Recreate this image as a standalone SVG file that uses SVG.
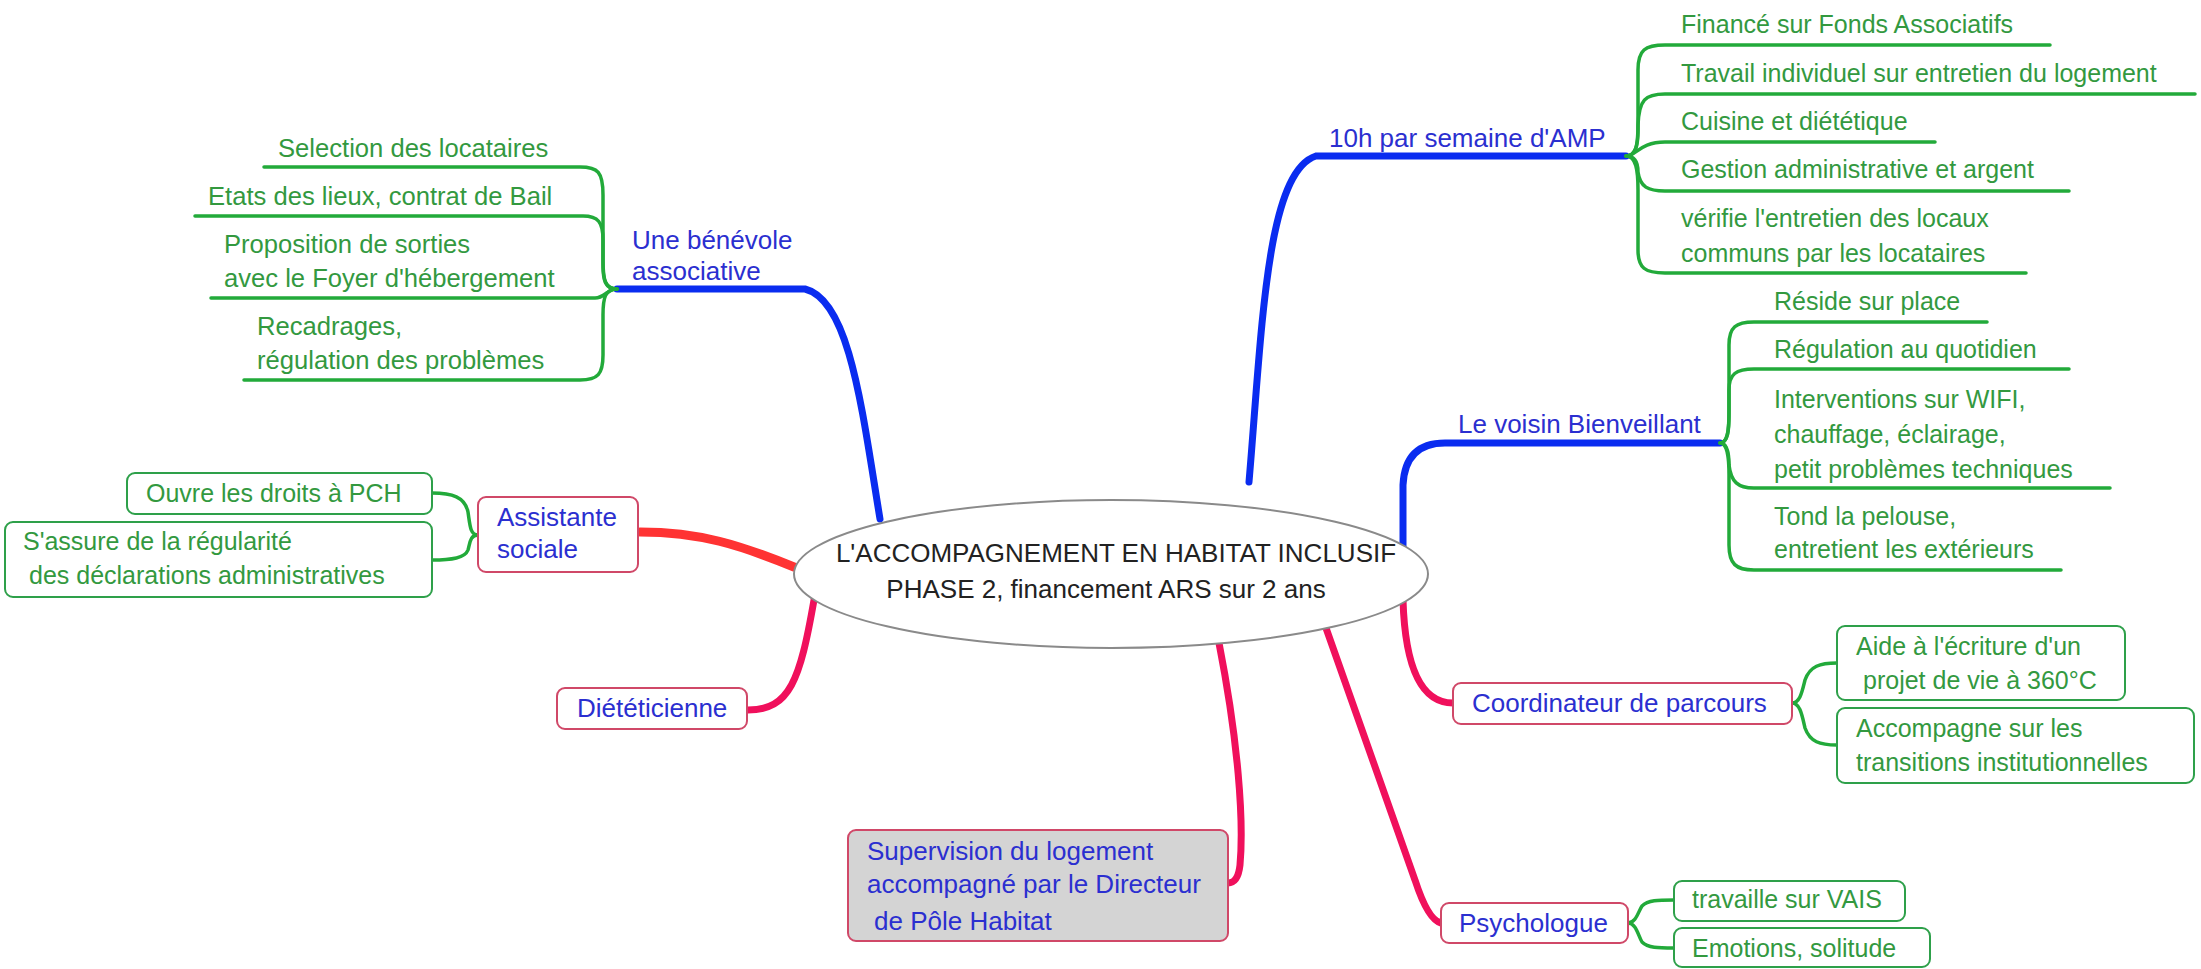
<svg xmlns="http://www.w3.org/2000/svg" width="2201" height="969" viewBox="0 0 2201 969">
<style>
text{font-family:"Liberation Sans",Arial,sans-serif;}
.g{fill:#33993f;font-size:25px;}
.gL{fill:#33993f;font-size:25.6px;}
.b{fill:#2b2fd0;font-size:26px;}
.c{fill:#222;font-size:26px;text-anchor:middle;}
.gl{fill:none;stroke:#22aa3a;stroke-width:3.5;stroke-linecap:round;}
.bl{fill:none;stroke:#0a2cf0;stroke-width:7;stroke-linecap:round;}
.pl{fill:none;stroke:#f0105c;stroke-width:7;stroke-linecap:round;}
.rl{fill:none;stroke:#ff3333;stroke-width:9;stroke-linecap:round;}
.nb{fill:#fff;stroke:#d04868;stroke-width:2;}
.gb{fill:#fff;stroke:#2ea04a;stroke-width:2;}
</style>
<rect width="2201" height="969" fill="#fff"/>
<g id="connectors">
<path class="bl" d="M 880 519 C 862 410, 850 300, 805 289 L 617 289"/>
<path class="bl" d="M 1249 482 C 1262 330, 1266 172, 1316 156 L 1626 156"/>
<path class="bl" d="M 1403 548 L 1403 485 Q 1405 443 1445 443 L 1720 443"/>
<path class="rl" d="M 794 567 C 740 545, 700 532, 640 532"/>
<path class="pl" d="M 814 600 C 800 680, 790 710, 748 710"/>
<path class="pl" d="M 1219 643 C 1238 740, 1244 820, 1240 865 Q 1238 883 1228 883"/>
<path class="pl" d="M 1326 628 L 1415 880 Q 1428 920 1441 923"/>
<path class="pl" d="M 1403 600 C 1405 665, 1420 703, 1453 703"/>
<path class="gl" d="M 617 289 C 605 289, 603 280, 603 260 L 603 195 C 603 172, 598 167, 580 167 L 264 167"/>
<path class="gl" d="M 617 289 C 605 289, 603 280, 603 265 L 603 240 C 603 222, 598 216, 583 216 L 195 216"/>
<path class="gl" d="M 617 289 C 607 289, 605 298, 595 298 L 211 298"/>
<path class="gl" d="M 617 289 C 605 289, 603 298, 603 315 L 603 355 C 603 374, 598 380, 580 380 L 244 380"/>
<path class="gl" d="M 1626 156 C 1636 156, 1638 145, 1638 130 L 1638 70 C 1638 50, 1645 45, 1665 45 L 2050 45"/>
<path class="gl" d="M 1626 156 C 1636 156, 1638 145, 1638 125 C 1639 100, 1645 94, 1665 94 L 2195 94"/>
<path class="gl" d="M 1626 156 C 1636 156, 1640 142, 1665 142 L 1935 142"/>
<path class="gl" d="M 1626 156 C 1636 156, 1638 165, 1638 172 C 1640 187, 1648 191, 1665 191 L 2069 191"/>
<path class="gl" d="M 1626 156 C 1636 156, 1638 170, 1638 190 L 1638 250 C 1638 268, 1645 273, 1665 273 L 2026 273"/>
<path class="gl" d="M 1720 443 C 1728 443, 1729 430, 1729 410 L 1729 345 C 1729 327, 1736 322, 1754 322 L 1987 322"/>
<path class="gl" d="M 1720 443 C 1728 443, 1729 430, 1729 415 L 1729 390 C 1729 374, 1736 369, 1754 369 L 2069 369"/>
<path class="gl" d="M 1720 443 C 1728 443, 1729 455, 1729 465 C 1731 482, 1738 488, 1754 488 L 2110 488"/>
<path class="gl" d="M 1720 443 C 1728 443, 1729 458, 1729 475 L 1729 545 C 1729 564, 1736 570, 1754 570 L 2061 570"/>
<path class="gl" d="M 478 535 C 470 535, 470 525, 468 512 C 465 497, 452 493, 432 493"/>
<path class="gl" d="M 478 535 C 470 535, 470 543, 468 550 C 465 558, 452 560, 432 560"/>
<path class="gl" d="M 1792 703 C 1800 703, 1802 692, 1805 680 C 1810 666, 1820 663, 1837 663"/>
<path class="gl" d="M 1792 703 C 1800 703, 1802 715, 1805 728 C 1810 742, 1820 745, 1837 745"/>
<path class="gl" d="M 1628 923 C 1636 923, 1638 912, 1642 906 C 1648 900, 1658 900, 1674 900"/>
<path class="gl" d="M 1628 923 C 1636 923, 1638 935, 1642 942 C 1648 948, 1658 948, 1674 948"/>
</g>
<g id="center">
<ellipse cx="1111" cy="574" rx="317" ry="74" fill="#fff" stroke="#8a8a8a" stroke-width="2"/>
<text class="c" x="1116" y="562">L'ACCOMPAGNEMENT EN HABITAT INCLUSIF</text>
<text class="c" x="1106" y="598">PHASE 2, financement ARS sur 2 ans</text>
</g>
<g id="benevole">
<text class="b" x="632" y="249">Une bénévole</text>
<text class="b" x="632" y="280">associative</text>
</g>
<g id="b-selection"><text class="gL" x="278" y="157">Selection des locataires</text></g>
<g id="b-etats"><text class="gL" x="208" y="205">Etats des lieux, contrat de Bail</text></g>
<g id="b-sorties"><text class="gL" x="224" y="253">Proposition de sorties</text><text class="gL" x="224" y="287">avec le Foyer d'hébergement</text></g>
<g id="b-recadrages"><text class="gL" x="257" y="335">Recadrages,</text><text class="gL" x="257" y="369">régulation des problèmes</text></g>
<g id="amp"><text class="b" x="1329" y="147">10h par semaine d'AMP</text></g>
<g id="a-finance"><text class="g" x="1681" y="33">Financé sur Fonds Associatifs</text></g>
<g id="a-travail"><text class="g" x="1681" y="82">Travail individuel sur entretien du logement</text></g>
<g id="a-cuisine"><text class="g" x="1681" y="130">Cuisine et diététique</text></g>
<g id="a-gestion"><text class="g" x="1681" y="178">Gestion administrative et argent</text></g>
<g id="a-verifie"><text class="g" x="1681" y="227">vérifie l'entretien des locaux</text><text class="g" x="1681" y="262">communs par les locataires</text></g>
<g id="voisin"><text class="b" x="1458" y="433">Le voisin Bienveillant</text></g>
<g id="v-reside"><text class="g" x="1774" y="310">Réside sur place</text></g>
<g id="v-regulation"><text class="g" x="1774" y="358">Régulation au quotidien</text></g>
<g id="v-interventions"><text class="g" x="1774" y="408">Interventions sur WIFI,</text><text class="g" x="1774" y="443">chauffage, éclairage,</text><text class="g" x="1774" y="478">petit problèmes techniques</text></g>
<g id="v-tond"><text class="g" x="1774" y="525">Tond la pelouse,</text><text class="g" x="1774" y="558">entretient les extérieurs</text></g>
<g id="assistante">
<rect class="nb" x="478" y="497" width="160" height="75" rx="8"/>
<text class="b" x="497" y="526">Assistante</text>
<text class="b" x="497" y="558">sociale</text>
</g>
<g id="s-ouvre">
<rect class="gb" x="127" y="473" width="305" height="41" rx="8"/>
<text class="g" x="146" y="502">Ouvre les droits à PCH</text>
</g>
<g id="s-assure">
<rect class="gb" x="5" y="522" width="427" height="75" rx="8"/>
<text class="g" x="23" y="550">S'assure de la régularité</text>
<text class="g" x="29" y="584">des déclarations administratives</text>
</g>
<g id="dieteticienne">
<rect class="nb" x="557" y="688" width="190" height="41" rx="8"/>
<text class="b" x="577" y="717">Diététicienne</text>
</g>
<g id="supervision">
<rect x="848" y="830" width="380" height="111" rx="8" fill="#d4d4d4" stroke="#d04868" stroke-width="2"/>
<text class="b" x="867" y="860">Supervision du logement</text>
<text class="b" x="867" y="893">accompagné par le Directeur</text>
<text class="b" x="874" y="930">de Pôle Habitat</text>
</g>
<g id="coordinateur">
<rect class="nb" x="1453" y="683" width="339" height="41" rx="8"/>
<text class="b" x="1472" y="712">Coordinateur de parcours</text>
</g>
<g id="c-aide">
<rect class="gb" x="1837" y="626" width="288" height="74" rx="8"/>
<text class="g" x="1856" y="655">Aide à l'écriture d'un</text>
<text class="g" x="1863" y="689">projet de vie à 360°C</text>
</g>
<g id="c-accompagne">
<rect class="gb" x="1837" y="708" width="357" height="75" rx="8"/>
<text class="g" x="1856" y="737">Accompagne sur les</text>
<text class="g" x="1856" y="771">transitions institutionnelles</text>
</g>
<g id="psychologue">
<rect class="nb" x="1441" y="903" width="187" height="40" rx="8"/>
<text class="b" x="1459" y="932">Psychologue</text>
</g>
<g id="p-vais">
<rect class="gb" x="1674" y="881" width="231" height="40" rx="8"/>
<text class="g" x="1692" y="908">travaille sur VAIS</text>
</g>
<g id="p-emotions">
<rect class="gb" x="1674" y="928" width="256" height="39" rx="8"/>
<text class="g" x="1692" y="957">Emotions, solitude</text>
</g>
</svg>
